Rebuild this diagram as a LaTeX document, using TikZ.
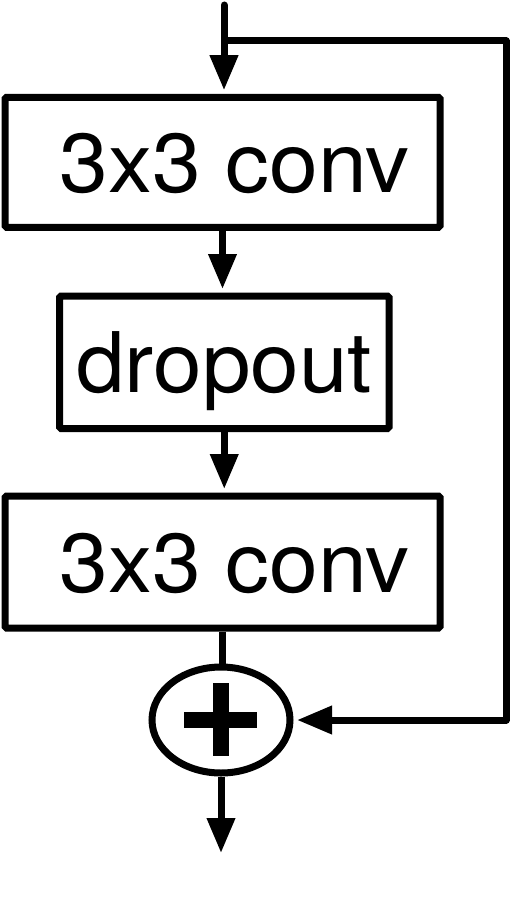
\documentclass[tikz,border=0pt]{standalone}
\usepackage{graphicx}
\usepackage{fontspec}
\setmainfont{TeX Gyre Heros}
\usetikzlibrary{arrows.meta,shapes.geometric}
\begin{document}
\begin{tikzpicture}[x=1pt,y=-1pt,
  every path/.style={line width=7pt},
  blockbox/.style={draw,rectangle,inner sep=0pt,line width=7pt,rounded corners=1.5pt,
    font=\fontsize{83.6pt}{90pt}\selectfont,text height=60pt,text depth=0pt},
  sumnode/.style={draw,ellipse,inner sep=0pt,line width=7pt,minimum width=138pt,minimum height=106pt},
  flow/.style={line width=7pt,-{Triangle[length=35pt,width=27pt]},shorten >=3.5pt},
  plain/.style={line width=7pt}
]
\useasboundingbox (0,0) rectangle (512,899);
\node[blockbox,minimum width=435pt,minimum height=130pt] (conv1) at (222.5,162.25) {\scalebox{1.05}[1]{\hspace*{0.278em}3x3 conv}};
\node[blockbox,minimum width=329.5pt,minimum height=132.5pt] (drop) at (224.25,362.25) {\scalebox{1.045}[1]{dropout}};
\node[blockbox,minimum width=435pt,minimum height=132pt] (conv2) at (222.5,562) {\scalebox{1.05}[1]{\hspace*{0.278em}3x3 conv}};
\node[sumnode] (plus) at (221,720) {};
\fill (213,683) rectangle (229,756);
\fill (184,712) rectangle (257,728);
\coordinate (in) at (224,5);
\coordinate (split) at (224,41);
\coordinate (rt) at (506,41);
\coordinate (out) at (221,853);
\draw[flow,line cap=round] (in) -- (in |- conv1.north);
\draw[flow,line join=round] (split) -- (rt) |- (plus.east);
\draw[flow] (conv1.south) -- (conv1.south |- drop.north);
\draw[flow] (drop.south) -- (drop.south |- conv2.north);
\draw[plain] (conv2.south) -- (conv2.south |- plus.north);
\draw[line width=7pt,-{Triangle[length=35pt,width=27pt]}] (plus.south) -- (out);
\end{tikzpicture}
\end{document}
